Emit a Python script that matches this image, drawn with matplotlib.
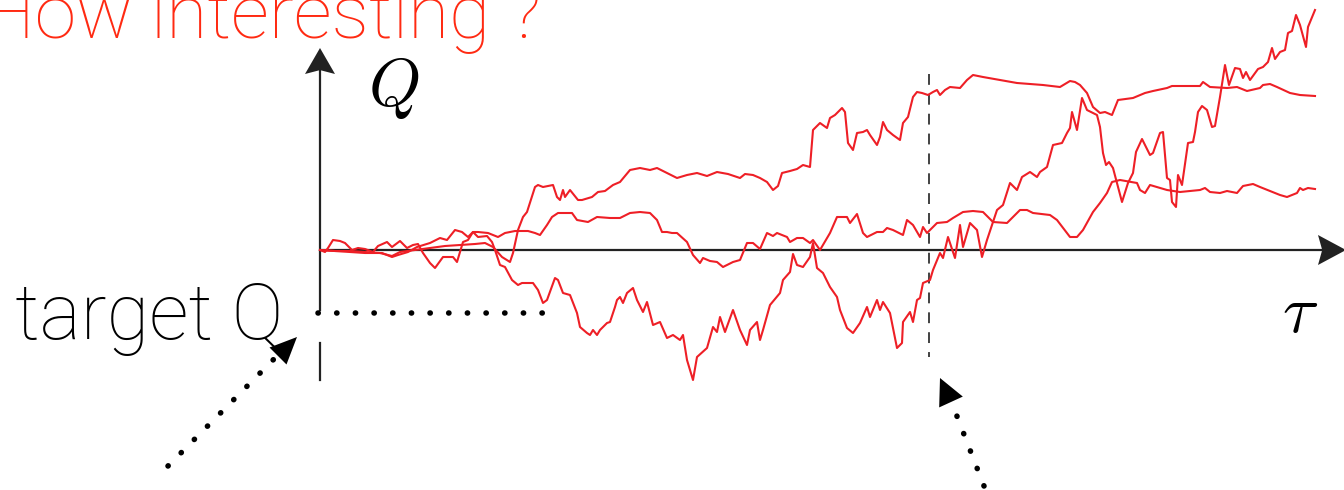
import matplotlib
matplotlib.use("Agg")
import matplotlib.pyplot as plt
from matplotlib.patches import Polygon
import numpy as np

# three walks, tau along the horizontal axis, Q measured from the axis
tau_a = [0, 15, 30, 45, 60, 72, 80, 95, 110, 125, 140, 155, 165, 173, 182, 190, 193, 198, 203, 207,
         215, 218, 223, 233, 237, 240, 243, 245, 250, 258, 262, 272, 278, 285, 293, 300, 310, 320, 330, 337,
         345, 357, 367, 377, 387, 397, 408, 420, 425, 433, 440, 447, 453, 458, 462, 470, 477, 483, 490, 493,
         500, 507, 510, 515, 522, 525, 528, 533, 537, 543, 547, 550, 557, 560, 563, 567, 573, 580, 583, 588,
         593, 597, 602, 608, 613, 617, 620, 625, 630, 640, 647, 653, 663, 680, 697, 710, 723, 740, 750, 755,
         760, 767, 773, 780, 785, 792, 798, 813, 825, 833, 847, 852, 880, 883, 890, 907, 917, 927, 940, 943,
         950, 957, 970, 980, 995]
q_a = [0, -1, -1, -2, -3, -6, -2, 0, 2, 4, 5, 6, 7, 3, -7, -12, -3, 20, 33, 38,
       63, 65, 63, 65, 53, 50, 60, 53, 60, 50, 50, 53, 58, 59, 65, 68, 80, 82, 80, 82,
       78, 72, 75, 77, 74, 78, 76, 72, 76, 75, 72, 68, 60, 64, 77, 79, 81, 85, 83, 120,
       127, 122, 132, 135, 142, 138, 107, 100, 117, 118, 120, 115, 105, 113, 128, 120, 115, 110, 127, 133,
       153, 158, 157, 155, 158, 160, 155, 160, 163, 162, 170, 175, 173, 170, 167, 166, 165, 163, 169, 168,
       165, 157, 143, 137, 138, 135, 150, 152, 157, 159, 162, 164, 164, 168, 163, 162, 163, 159, 162, 165,
       166, 163, 157, 155, 154]

tau_b = [0, 15, 30, 45, 62, 72, 78, 88, 97, 110, 120, 127, 135, 142, 148, 153, 158, 168, 178, 185,
         195, 208, 215, 220, 227, 232, 238, 245, 252, 257, 268, 277, 290, 300, 310, 320, 330, 337, 342, 347,
         352, 357, 367, 373, 380, 383, 390, 397, 403, 413, 420, 427, 433, 440, 447, 453, 457, 467, 470, 477,
         483, 490, 493, 500, 510, 517, 527, 530, 537, 543, 547, 557, 563, 567, 573, 583, 587, 593, 600, 603,
         607, 617, 627, 633, 643, 653, 663, 673, 687, 700, 707, 713, 730, 737, 750, 757, 763, 773, 780, 787,
         792, 800, 817, 820, 825, 830, 847, 860, 880, 885, 890, 900, 907, 917, 923, 933, 940, 960, 967, 977,
         980, 983, 988, 995]
q_b = [0, -1, -2, -3, -3, -7, -5, -2, 3, 7, 12, 10, 20, 18, 13, 18, 18, 17, 13, 17,
       19, 19, 17, 15, 25, 33, 37, 37, 37, 30, 28, 33, 32, 32, 37, 38, 37, 30, 18, 18,
       17, 17, 8, -5, -13, -8, -11, -12, -17, -12, -10, 7, 7, 1, 17, 14, 17, 13, 8, 12,
       12, 7, 10, 0, 17, 33, 33, 27, 36, 17, 13, 18, 18, 22, 20, 15, 30, 25, 13, 23,
       17, 27, 28, 32, 38, 39, 38, 28, 27, 40, 40, 37, 35, 30, 13, 13, 20, 38, 47, 57,
       68, 70, 67, 60, 57, 65, 60, 58, 60, 62, 58, 57, 59, 57, 64, 66, 63, 55, 53, 57,
       62, 60, 62, 61]

tau_c = [0, 5, 8, 13, 20, 25, 32, 38, 45, 53, 58, 67, 72, 80, 87, 93, 98, 103, 110, 115,
         123, 133, 137, 143, 148, 153, 158, 167, 172, 175, 180, 185, 192, 198, 202, 207, 213, 218, 223, 227,
         235, 238, 243, 250, 257, 260, 267, 270, 273, 277, 280, 287, 290, 295, 297, 300, 303, 307, 313, 317,
         323, 327, 333, 340, 347, 353, 360, 363, 367, 373, 377, 387, 393, 397, 400, 405, 413, 420, 427, 430,
         437, 440, 443, 450, 460, 463, 470, 473, 477, 483, 490, 493, 497, 503, 510, 517, 520, 527, 533, 540,
         547, 550, 557, 560, 563, 570, 577, 582, 583, 590, 593, 597, 600, 603, 610, 613, 620, 623, 628, 635,
         640, 643, 650, 657, 662, 667, 677, 683, 690, 697, 702, 710, 717, 720, 727, 733, 742, 747, 750, 752,
         757, 762, 767, 777, 780, 783, 786, 789, 793, 797, 802, 808, 813, 816, 822, 830, 833, 840, 843, 847,
         850, 852, 856, 858, 862, 868, 873, 875, 878, 882, 887, 892, 895, 900, 905, 909, 915, 920, 923, 926,
         930, 938, 943, 948, 952, 955, 960, 965, 968, 972, 976, 980, 986, 988, 995]
q_c = [0, -2, 2, 10, 9, 7, 0, 2, 1, -2, 4, 8, 3, 9, 2, 5, 6, -3, -13, -18,
       -7, -7, -12, 8, 10, 18, 13, 14, 8, 0, -15, -17, -30, -35, -33, -33, -33, -40, -53, -50,
       -28, -30, -43, -45, -63, -77, -83, -85, -80, -85, -80, -73, -72, -57, -50, -47, -53, -43, -38, -50,
       -62, -52, -75, -72, -88, -85, -90, -85, -110, -130, -107, -98, -77, -82, -67, -82, -60, -80, -95, -80,
       -72, -90, -80, -55, -43, -30, -22, -4, -15, -17, -7, 7, -18, -23, -37, -47, -60, -78, -83, -73,
       -57, -67, -50, -60, -52, -63, -98, -93, -72, -62, -72, -50, -48, -33, -30, -20, -3, -8, 13, -8,
       25, 3, 27, 20, -7, 10, 40, 45, 67, 60, 73, 78, 73, 78, 83, 105, 107, 117, 122, 138,
       120, 152, 140, 135, 123, 97, 85, 88, 82, 67, 48, 67, 77, 98, 111, 95, 97, 117, 118, 72,
       70, 48, 43, 75, 65, 107, 108, 118, 138, 144, 140, 123, 124, 153, 185, 165, 182, 181, 172, 178,
       170, 181, 183, 188, 202, 191, 198, 200, 217, 219, 235, 225, 203, 223, 240]

title = "How interesting ?"
target_label = "target Q"

walk_red = "#ee1f26"
title_red = "#ff2a12"
ink = "#222222"

plt.rcParams['font.family'] = ['Roboto', 'DejaVu Sans']
plt.rcParams['mathtext.fontset'] = 'cm'

fig = plt.figure(figsize=(13.44, 4.9), dpi=100)
ax = fig.add_axes([0, 0, 1, 1])
ax.set_xlim(-320, 1024)
ax.set_ylim(-240, 250)
ax.axis('off')


def head(ax, tip, base, half_w, notch=0.0, color=ink):
    tip = np.array(tip, float)
    base = np.array(base, float)
    d = tip - base
    n = np.array([-d[1], d[0]]) / np.hypot(*d)
    pts = [tip, base + n * half_w, base + d * notch, base - n * half_w]
    ax.add_patch(Polygon(pts, closed=True, color=color, lw=0, zorder=5))


def dotted(ax, x, y):
    # round dots about 18.7 px apart
    ax.plot(x, y, color='black', lw=4.0, linestyle=(0, (0.05, 3.31)),
            dash_capstyle='round', solid_capstyle='round', zorder=3)


# axes with arrow heads
ax.plot([0, 1010], [0, 0], color=ink, lw=1.6, zorder=3)
head(ax, (1026, 0), (998, 0), 15, notch=0.15)
ax.plot([0, 0], [-130, -93], color=ink, lw=1.6, zorder=3)
ax.plot([0, 0], [-60, 190], color=ink, lw=1.6, zorder=3)
head(ax, (0, 202), (0, 176), 15, notch=0.15)

# walks
for t, q in [(tau_a, q_a), (tau_b, q_b), (tau_c, q_c)]:
    ax.plot(t, q, color=walk_red, lw=1.5, zorder=4)

# target level, dotted
dotted(ax, [-2, 223], [-63, -63])

# dashed time marker
ax.plot([609, 609], [176, -107], color='#333333', lw=1.3,
        linestyle=(0, (6, 5)), zorder=3)

# dotted pointer arrows
dotted(ax, [-152, -46], [-216, -109])
head(ax, (-23, -87), (-42, -106), 12, color='black')
dotted(ax, [664, 636.5], [-236, -165])
head(ax, (620, -128), (631, -152), 13, color='black')

# labels
ax.text(-338, 212, title, color=title_red, fontsize=54, fontweight='light',
        ha='left', va='baseline')
ax.text(-305, -89, target_label, color='black', fontsize=56, fontweight='light',
        ha='left', va='baseline')
ax.text(48, 144, r'$Q$', fontsize=48, ha='left', va='baseline')
ax.text(962, -82, r'$\tau$', fontsize=48, ha='left', va='baseline')

fig.savefig("out.png", dpi=100)
